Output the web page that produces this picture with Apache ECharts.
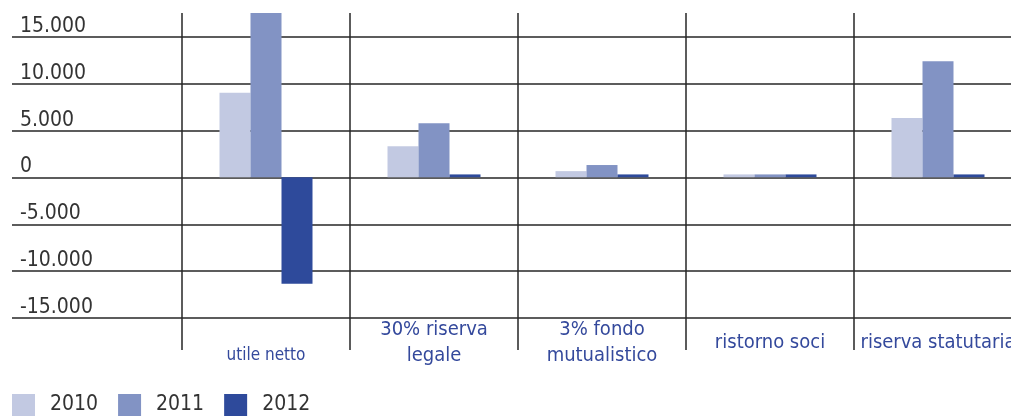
<!DOCTYPE html>
<html>
<head>
<meta charset="utf-8">
<script src="https://cdn.jsdelivr.net/npm/echarts@6/dist/echarts.min.js"></script>
<style>
html,body{margin:0;padding:0;background:#fff;}
#c{width:1011px;height:416px;}
</style>
</head>
<body>
<div id="c"></div>
<script>
var categories = ['utile netto', '30% riserva\nlegale', '3% fondo\nmutualistico', 'ristorno soci', 'riserva statutaria'];
var seriesNames = ['2010', '2011', '2012'];
var v2010 = [9000, 3300, 650, 300, 6300];
var v2011 = [17550, 5750, 1300, 300, 12350];
var v2012 = [-11350, 300, 300, 300, 300];
var colors = ['#c2c9e2', '#8293c4', '#2e4a9b'];

var FONT = "'Liberation Sans Narrow', 'DejaVu Sans Condensed', 'Liberation Sans', sans-serif";
var LINE = '#262626';

function fmt(v) {
  var s = String(Math.abs(v)).replace(/\B(?=(\d{3})+(?!\d))/g, '.');
  return (v < 0 ? '-' : '') + s;
}

var chart = echarts.init(document.getElementById('c'));
var catData = categories.map(function (c, i) {
  return i === 0 ? { value: c, textStyle: { fontSize: 17 } } : c;
});

chart.setOption({
  animation: false,
  backgroundColor: '#fff',
  textStyle: { fontFamily: FONT },
  legend: {
    left: 12, top: 394, padding: 0,
    itemWidth: 23, itemHeight: 22, itemGap: 20,
    icon: 'rect',
    textStyle: { fontFamily: FONT, fontSize: 21, color: '#333', padding: [0, 0, 0, 10] },
    data: seriesNames
  },
  grid: [
    { left: 182, top: 13, width: 840, height: 305, outerBoundsMode: 'none', containLabel: false },
    { left: 12, right: 0, top: 37, height: 281, outerBoundsMode: 'none', containLabel: false }
  ],
  xAxis: [
    {
      type: 'category', gridIndex: 0, data: catData,
      axisLine: { show: false, onZero: false },
      axisTick: { show: true, length: 32, lineStyle: { color: LINE, width: 1.5 } },
      splitLine: { show: true, lineStyle: { color: LINE, width: 1.5 } },
      axisLabel: {
        fontFamily: FONT, fontSize: 20, color: '#34499c', lineHeight: 26,
        margin: 25, verticalAlign: 'middle', interval: 0
      }
    },
    { type: 'value', gridIndex: 1, show: false, min: 0, max: 1 }
  ],
  yAxis: [
    { type: 'value', gridIndex: 0, min: -15000, max: 17500, show: false },
    {
      type: 'value', gridIndex: 1, min: -15000, max: 15000, interval: 5000,
      axisLine: { show: false }, axisTick: { show: false },
      splitLine: { show: true, lineStyle: { color: LINE, width: 1.5 } },
      axisLabel: {
        inside: true, margin: 8, align: 'left', verticalAlign: 'bottom',
        fontFamily: FONT, fontSize: 21, color: '#333', padding: 0,
        formatter: fmt
      }
    }
  ],
  series: [
    { name: '2010', type: 'bar', data: v2010, barWidth: 31, barGap: '0%', itemStyle: { color: colors[0] } },
    { name: '2011', type: 'bar', data: v2011, barWidth: 31, barGap: '0%', itemStyle: { color: colors[1] } },
    { name: '2012', type: 'bar', data: v2012, barWidth: 31, barGap: '0%', itemStyle: { color: colors[2] } },
    { type: 'scatter', xAxisIndex: 1, yAxisIndex: 1, data: [], silent: true }
  ]
});
</script>
</body>
</html>
